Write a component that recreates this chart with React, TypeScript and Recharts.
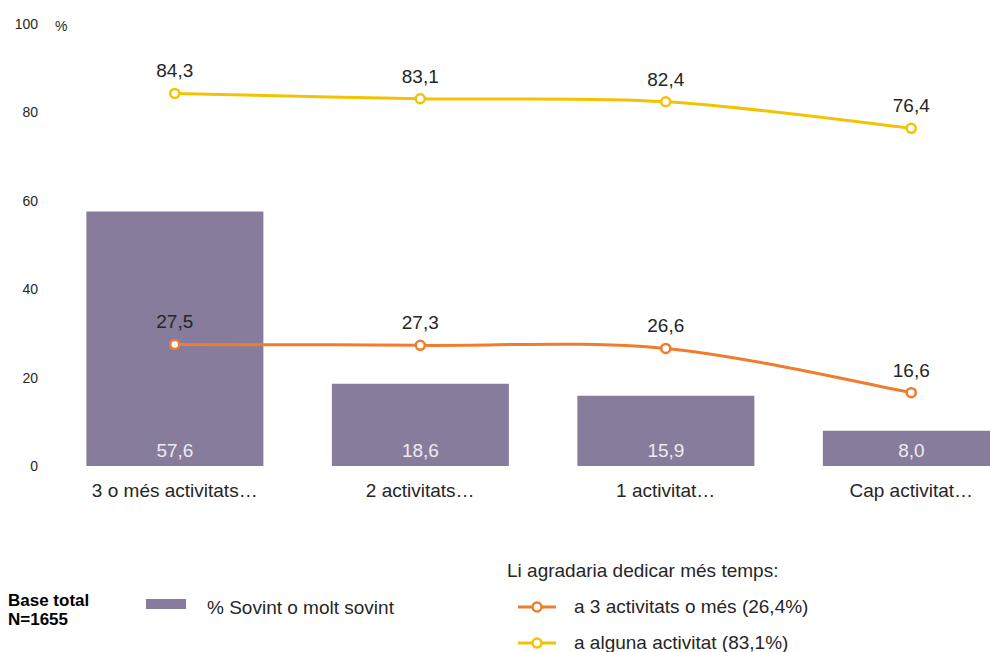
import React from "react";
import { ComposedChart, Bar, Line, XAxis, YAxis, LabelList } from "recharts";

const categories = ["3 o més activitats…", "2 activitats…", "1 activitat…", "Cap activitat…"];
const sovintValues = [57.6, 18.6, 15.9, 8.0];
const tresOMesValues = [27.5, 27.3, 26.6, 16.6];
const algunaValues = [84.3, 83.1, 82.4, 76.4];
const yTicks = [0, 20, 40, 60, 80, 100];

const data = categories.map((c, i) => ({
  name: c,
  sovint: sovintValues[i],
  tres: tresOMesValues[i],
  alguna: algunaValues[i],
}));

const BAR = "#877C9B";
const ORANGE = "#EF7D2C";
const YELLOW = "#F4C300";
const TEXT = "#262626";
const FONT = "'Liberation Sans', Arial, sans-serif";

const fmt = (v: any) => Number(v).toFixed(1).replace(".", ",");

// Catmull-Rom style smoothing (like spreadsheet "smoothed line")
const smoothCurve = (context: any) => {
  let pts: number[][] = [];
  return {
    areaStart() {},
    areaEnd() {},
    lineStart() {
      pts = [];
    },
    point(x: number, y: number) {
      pts.push([+x, +y]);
    },
    lineEnd() {
      if (!pts.length) return;
      context.moveTo(pts[0][0], pts[0][1]);
      for (let i = 0; i < pts.length - 1; i++) {
        const p0 = pts[i - 1] || pts[i];
        const p1 = pts[i];
        const p2 = pts[i + 1];
        const p3 = pts[i + 2] || pts[i + 1];
        context.bezierCurveTo(
          p1[0] + (p2[0] - p0[0]) / 6,
          p1[1] + (p2[1] - p0[1]) / 6,
          p2[0] - (p3[0] - p1[0]) / 6,
          p2[1] - (p3[1] - p1[1]) / 6,
          p2[0],
          p2[1]
        );
      }
    },
  };
};

const BarValueLabel = (props: any) => {
  const { x, y, width, height, value } = props;
  return (
    <text
      x={x + width / 2}
      y={y + height - 9}
      textAnchor="middle"
      fill="#EEEAF2"
      fontSize={19}
      fontFamily={FONT}
    >
      {fmt(value)}
    </text>
  );
};

const LineIcon = ({ color }: { color: string }) => (
  <svg width={40} height={14} style={{ position: "absolute", left: 0, top: 3 }}>
    <line x1={1} y1={7} x2={39} y2={7} stroke={color} strokeWidth={3} />
    <circle cx={20} cy={7} r={4.5} fill="#fff" stroke={color} strokeWidth={2.5} />
  </svg>
);

const legendText: React.CSSProperties = {
  position: "absolute",
  fontSize: 19,
  lineHeight: "20px",
  color: TEXT,
  whiteSpace: "nowrap",
};

export default function App() {
  return (
    <div
      style={{
        position: "absolute",
        left: 0,
        top: 0,
        width: 990,
        height: 652,
        overflow: "hidden",
        background: "#fff",
        fontFamily: FONT,
      }}
    >
      <ComposedChart
        width={1034}
        height={652}
        data={data}
        margin={{ top: 24, right: 0, bottom: 156, left: 0 }}
        barCategoryGap="14%"
      >
        <XAxis
          dataKey="name"
          axisLine={false}
          tickLine={false}
          tickSize={0}
          tickMargin={18}
          height={30}
          interval={0}
          tick={{ fill: TEXT, fontSize: 19, fontFamily: FONT }}
        />
        <YAxis
          domain={[0, 100]}
          ticks={yTicks}
          width={52}
          axisLine={false}
          tickLine={false}
          tickSize={0}
          tickMargin={14}
          tick={{ fill: TEXT, fontSize: 14, fontFamily: FONT }}
        />
        <Bar dataKey="sovint" fill={BAR} isAnimationActive={false}>
          <LabelList dataKey="sovint" content={<BarValueLabel />} />
        </Bar>
        <Line
          type={smoothCurve as any}
          dataKey="tres"
          stroke={ORANGE}
          strokeWidth={3}
          dot={{ r: 4.5, fill: "#fff", stroke: ORANGE, strokeWidth: 2.5 }}
          isAnimationActive={false}
        >
          <LabelList
            dataKey="tres"
            position="top"
            offset={16}
            formatter={fmt}
            style={{ fill: TEXT, fontSize: 19, fontFamily: FONT }}
          />
        </Line>
        <Line
          type={smoothCurve as any}
          dataKey="alguna"
          stroke={YELLOW}
          strokeWidth={3}
          dot={{ r: 4.5, fill: "#fff", stroke: YELLOW, strokeWidth: 2.5 }}
          isAnimationActive={false}
        >
          <LabelList
            dataKey="alguna"
            position="top"
            offset={16}
            formatter={fmt}
            style={{ fill: TEXT, fontSize: 19, fontFamily: FONT }}
          />
        </Line>
      </ComposedChart>

      <div style={{ position: "absolute", left: 55, top: 18, fontSize: 14, lineHeight: "16px", color: TEXT }}>%</div>

      <div
        style={{
          position: "absolute",
          left: 8,
          top: 591,
          fontSize: 17,
          fontWeight: "bold",
          color: "#000",
          lineHeight: "19px",
        }}
      >
        Base total
        <br />
        N=1655
      </div>

      <div style={{ position: "absolute", left: 146, top: 599, width: 40, height: 10, background: BAR }} />
      <div style={{ ...legendText, left: 207, top: 598 }}>% Sovint o molt sovint</div>

      <div style={{ ...legendText, left: 507, top: 561 }}>Li agradaria dedicar més temps:</div>
      <div style={{ position: "absolute", left: 517, top: 597, height: 20, width: 320 }}>
        <LineIcon color={ORANGE} />
        <span style={{ ...legendText, left: 57, top: 0 }}>a 3 activitats o més (26,4%)</span>
      </div>
      <div style={{ position: "absolute", left: 517, top: 633, height: 20, width: 320 }}>
        <LineIcon color={YELLOW} />
        <span style={{ ...legendText, left: 57, top: 0 }}>a alguna activitat (83,1%)</span>
      </div>
    </div>
  );
}
